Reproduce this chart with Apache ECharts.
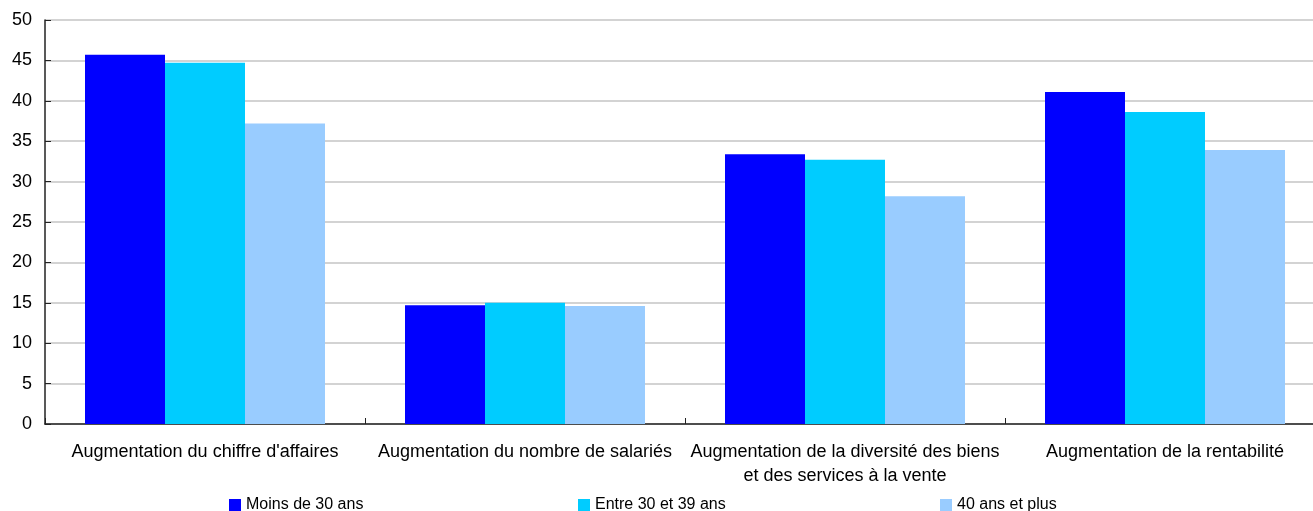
<!DOCTYPE html>
<html>
<head>
<meta charset="utf-8">
<script src="https://cdn.jsdelivr.net/npm/echarts@6/dist/echarts.min.js"></script>
<style>
  html, body { margin: 0; padding: 0; background: #ffffff; overflow: hidden; }
  /* the plot runs a little past the right edge of the window */
  #chart { width: 1325px; height: 511px; }
</style>
</head>
<body>
<div id="chart"></div>
<script>
// Catégories (effets déclarés) et parts par tranche d'âge, en %
const categories = [
  "Augmentation du chiffre d'affaires",
  "Augmentation du nombre de salariés",
  "Augmentation de la diversité des biens\net des services à la vente",
  "Augmentation de la rentabilité"
];
const seriesNames = ["Moins de 30 ans", "Entre 30 et 39 ans", "40 ans et plus"];
const moins30 = [45.7, 14.7, 33.4, 41.1];
const entre30et39 = [44.7, 15.0, 32.7, 38.6];
const plus40 = [37.2, 14.6, 28.2, 33.9];
const yTicks = { min: 0, max: 50, interval: 5 };

const colors = ["#0000ff", "#00ccff", "#99ccff"];
const values = [moins30, entre30et39, plus40];
const legendLeft = [229, 578, 940];
const font = "'Liberation Sans', Arial, sans-serif";

const chart = echarts.init(document.getElementById("chart"), null, { renderer: "canvas" });

chart.setOption({
  animation: false,
  backgroundColor: "#ffffff",
  textStyle: { fontFamily: font, color: "#000" },
  grid: { left: 45, top: 20, right: 0, height: 404, containLabel: false },
  legend: seriesNames.map((name, i) => ({
    data: [name],
    left: legendLeft[i],
    top: 497,
    itemWidth: 12,
    itemHeight: 12,
    itemGap: 0,
    icon: "rect",
    textStyle: { fontFamily: font, fontSize: 16, color: "#000" },
    padding: 0
  })),
  xAxis: {
    type: "category",
    data: categories,
    axisLine: { show: true, lineStyle: { color: "#222", width: 1.5 } },
    axisTick: { show: true, inside: true, length: 6, lineStyle: { color: "#222" } },
    axisLabel: {
      interval: 0,
      margin: 16,
      fontFamily: font,
      fontSize: 18,
      lineHeight: 24,
      color: "#000"
    },
    splitLine: { show: false }
  },
  yAxis: {
    type: "value",
    min: yTicks.min,
    max: yTicks.max,
    interval: yTicks.interval,
    axisLine: { show: true, lineStyle: { color: "#222", width: 1.5 } },
    axisTick: { show: true, inside: true, length: 6, lineStyle: { color: "#222" } },
    axisLabel: { margin: 13, fontFamily: font, fontSize: 18, color: "#000" },
    splitLine: { show: true, lineStyle: { color: "#c4c4c4", width: 1.5 } }
  },
  series: seriesNames.map((name, i) => ({
    name: name,
    type: "bar",
    data: values[i],
    barGap: "0%",
    barCategoryGap: "25%",
    itemStyle: { color: colors[i] },
    emphasis: { disabled: true }
  }))
});
</script>
</body>
</html>
